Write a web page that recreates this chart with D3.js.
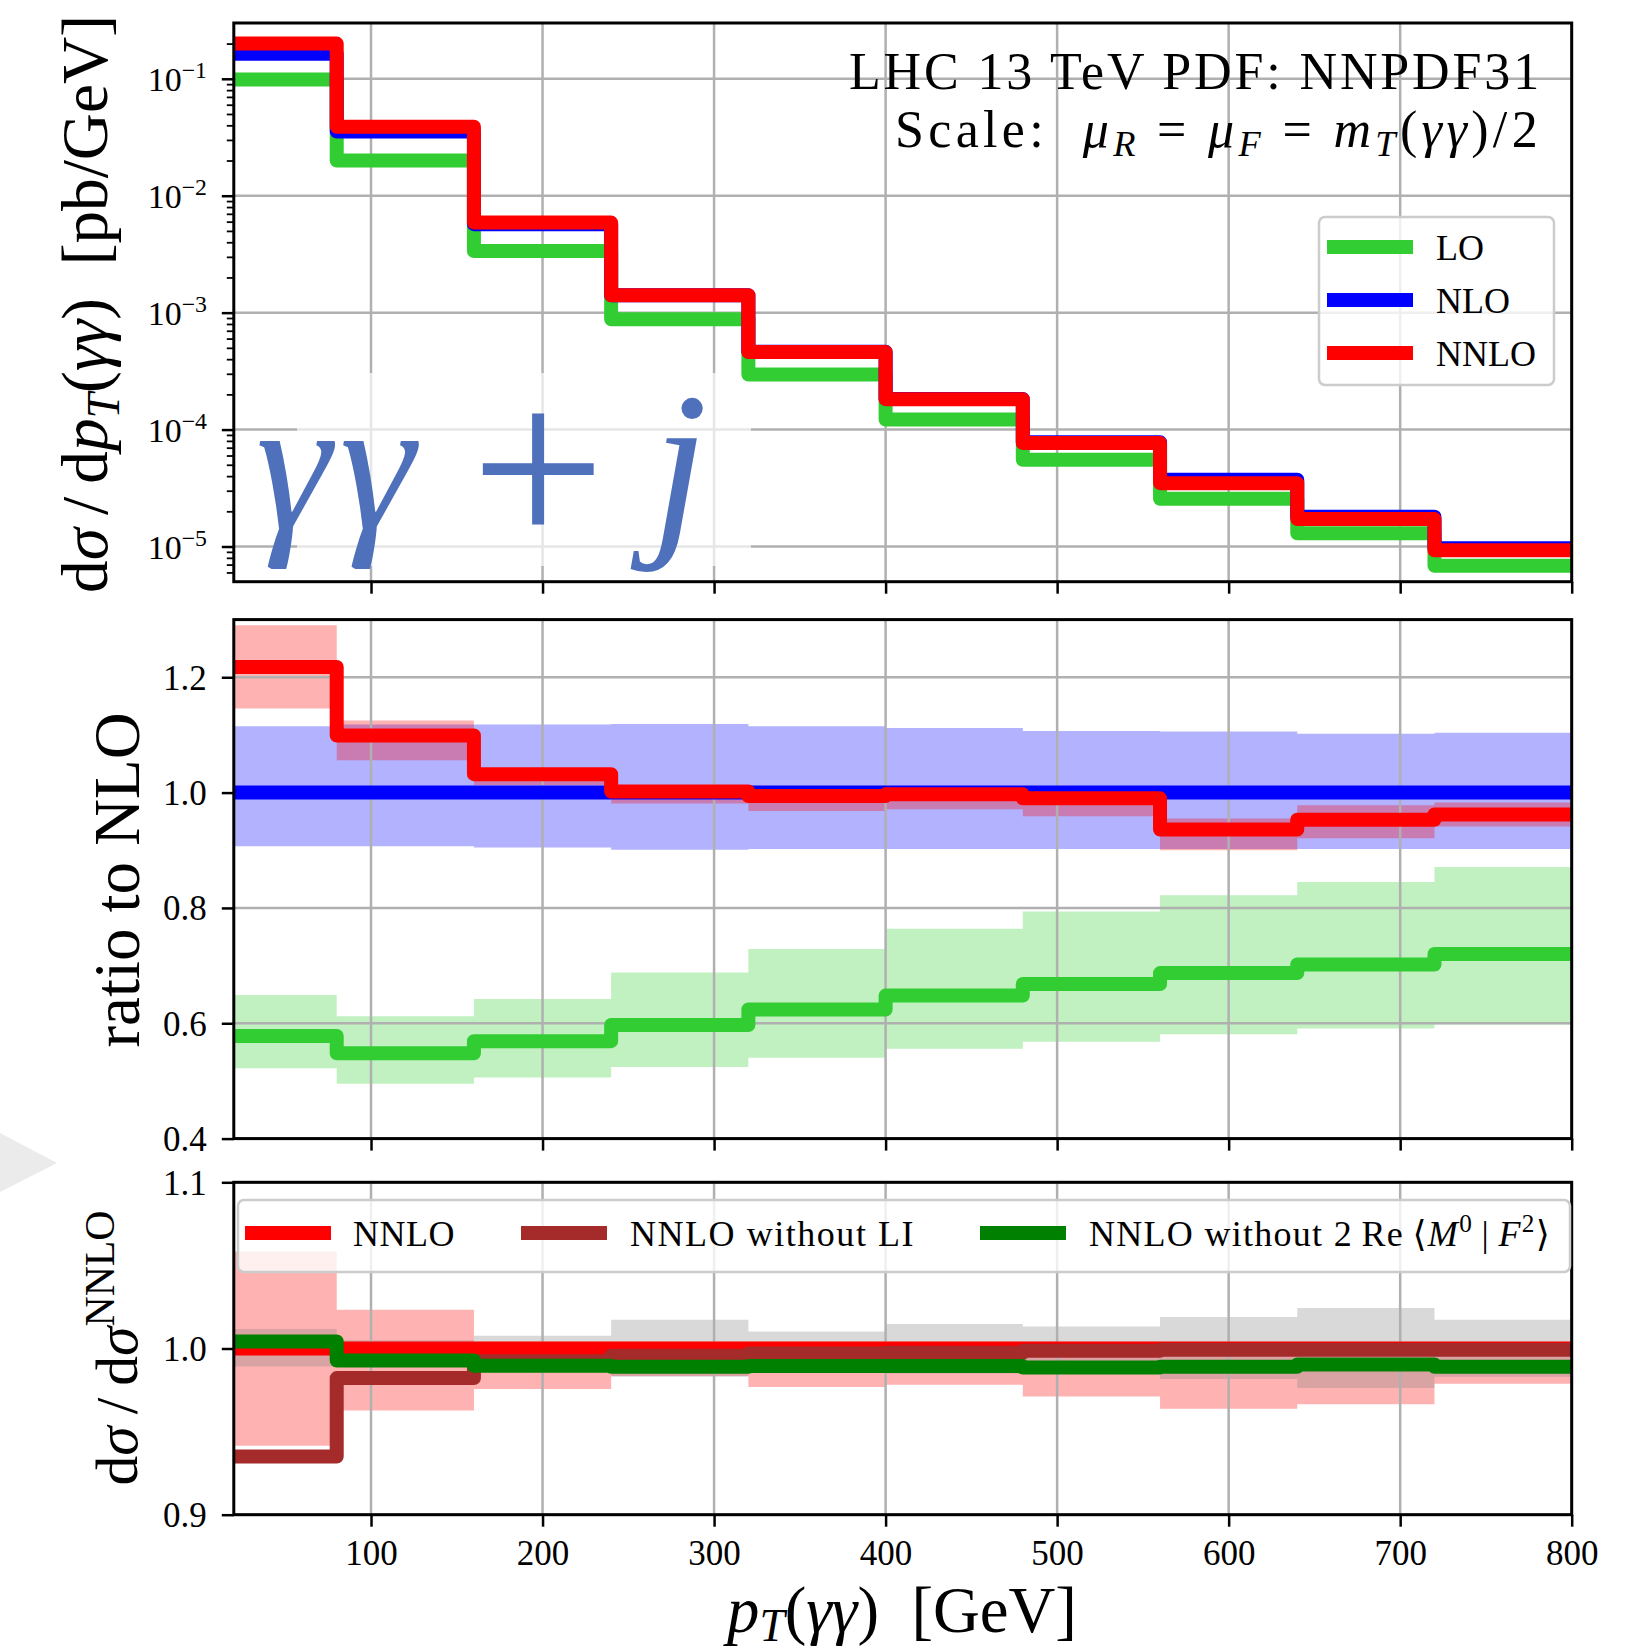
<!DOCTYPE html>
<html>
<head>
<meta charset="utf-8">
<script src="https://cdn.jsdelivr.net/npm/d3@7"></script>
<style>
  body { margin: 0; background: #fff; }
  svg { display: block; }
  text { font-family: "Liberation Serif", "DejaVu Serif", serif; fill: #000; }
  text.process { fill: #4f70ba; }
</style>
</head>
<body>
<svg id="fig" width="1635" height="1651"></svg>
<script>
// ---- binning in pT(γγ) [GeV] ----
const binEdges = [20, 80, 160, 240, 320, 400, 480, 560, 640, 720, 800];

// ---- differential cross sections dσ/dpT [pb/GeV] ----
const loXsec   = [0.0984, 0.0200, 0.00336, 0.000879, 0.000296, 0.000122, 5.51e-5, 2.56e-5, 1.30e-5, 6.85e-6];
const nloXsec  = [0.164, 0.0354, 0.00571, 0.00141, 0.000463, 0.000183, 7.8e-5, 3.72e-5, 1.80e-5, 9.64e-6];
const nnloXsec = [0.200, 0.0389, 0.00589, 0.00141, 0.000460, 0.000182, 7.67e-5, 3.48e-5, 1.72e-5, 9.27e-6];

// ---- ratio to NLO: central values and scale bands ----
const loRatio      = [0.578, 0.548, 0.569, 0.597, 0.624, 0.648, 0.668, 0.687, 0.702, 0.720];
const loRatioLow   = [0.522, 0.495, 0.506, 0.524, 0.540, 0.556, 0.568, 0.581, 0.591, 0.598];
const loRatioHigh  = [0.649, 0.612, 0.642, 0.688, 0.729, 0.764, 0.794, 0.822, 0.845, 0.871];
const nloRatio     = [1, 1, 1, 1, 1, 1, 1, 1, 1, 1];
const nloRatioLow  = [0.907, 0.907, 0.905, 0.901, 0.902, 0.902, 0.902, 0.902, 0.902, 0.902];
const nloRatioHigh = [1.115, 1.118, 1.118, 1.119, 1.115, 1.112, 1.107, 1.106, 1.102, 1.104];
const nnloRatio     = [1.218, 1.099, 1.032, 1.002, 0.994, 0.997, 0.990, 0.936, 0.953, 0.962];
const nnloRatioLow  = [1.146, 1.056, 1.013, 0.981, 0.968, 0.971, 0.959, 0.900, 0.921, 0.941];
const nnloRatioHigh = [1.290, 1.125, 1.040, 1.010, 1.000, 1.003, 0.996, 0.955, 0.978, 0.983];

// ---- ratio to full NNLO ----
const nnloSelf     = [1, 1, 1, 1, 1, 1, 1, 1, 1, 1];
const nnloSelfLow  = [0.9415, 0.9627, 0.9756, 0.9834, 0.9768, 0.9782, 0.9711, 0.9637, 0.9665, 0.9788];
const nnloSelfHigh = [1.0584, 1.0233, 1.004, 1.004, 1.004, 1.004, 1.004, 1.004, 1.004, 1.004];
const statLow      = [0.9892, 0.995, 0.992, 0.983, 0.990, 0.985, 0.987, 0.9816, 0.9762, 0.983];
const statHigh     = [1.0117, 1.005, 1.0076, 1.0173, 1.0102, 1.0147, 1.0133, 1.0189, 1.0243, 1.0173];
const noLIRatio    = [0.935, 0.9822, 0.9924, 0.9956, 0.997, 0.9974, 0.9986, 0.9993, 0.9993, 0.9993];
const noM0F2Ratio  = [1.0042, 0.9928, 0.9896, 0.9890, 0.9894, 0.9894, 0.9886, 0.9890, 0.9904, 0.9890];

// ---- ticks ----
const xTicks = [100, 200, 300, 400, 500, 600, 700, 800];
const logTicks = [1e-5, 1e-4, 1e-3, 1e-2, 1e-1];
const logTickExponents = ["−5", "−4", "−3", "−2", "−1"];
const midTicks = [0.4, 0.6, 0.8, 1.0, 1.2];
const botTicks = [0.9, 1.0, 1.1];

// ---- colours ----
const C = {
  lo: "#32cd32", nlo: "#0000ff", nnlo: "#ff0000",
  noLI: "#a52a2a", noM0F2: "#008000", stat: "#808080",
  grid: "#b0b0b0", legendEdge: "#cccccc"
};

// ---- layout ----
const L = 233.8, R = 1571.7;
const P = {
  top: [23, 581.7],
  mid: [619.6, 1138.6],
  bot: [1182.3, 1514.7]
};
const LW = 14;

const svg = d3.select("#fig");
svg.append("rect").attr("width", 1635).attr("height", 1651).attr("fill", "#fff");

const x = d3.scaleLinear().domain([20, 800]).range([L, R]);
const yTop = d3.scaleLog().domain([5e-6, 0.3]).range([P.top[1], P.top[0]]);
const yMid = d3.scaleLinear().domain([0.4, 1.3]).range([P.mid[1], P.mid[0]]);
const yBot = d3.scaleLinear().domain([0.9, 1.1]).range([P.bot[1], P.bot[0]]);

// light grey marker shape at the left edge
svg.append("path").attr("d", "M0,1133 L57,1163 L0,1192 Z").attr("fill", "#ebebeb");

// ---- helpers ----
const pick = (arr, i) => arr[Math.min(i, arr.length - 1)];

function drawStep(g, y, vals, color) {
  const pts = binEdges.map((e, i) => [e, pick(vals, i)]);
  g.append("path").datum(pts)
    .attr("d", d3.line().x(d => x(d[0])).y(d => y(d[1])).curve(d3.curveStepAfter))
    .attr("fill", "none").attr("stroke", color).attr("stroke-width", LW)
    .attr("stroke-linejoin", "round").attr("stroke-linecap", "butt");
}
function drawBand(g, y, lo, hi, color, op) {
  const pts = binEdges.map((e, i) => ({ x: e, lo: pick(lo, i), hi: pick(hi, i) }));
  g.append("path").datum(pts)
    .attr("d", d3.area().x(d => x(d.x)).y0(d => y(d.lo)).y1(d => y(d.hi)).curve(d3.curveStepAfter))
    .attr("fill", color).attr("fill-opacity", op);
}
function panelClip(id, yr) {
  svg.append("clipPath").attr("id", id).append("rect")
    .attr("x", L).attr("y", yr[0]).attr("width", R - L).attr("height", yr[1] - yr[0]);
  return svg.append("g").attr("clip-path", `url(#${id})`);
}
function grid(g, y, yVals, yr) {
  const gg = g.append("g").attr("stroke", C.grid).attr("stroke-width", 2.5);
  xTicks.forEach(v => gg.append("line").attr("x1", x(v)).attr("x2", x(v)).attr("y1", yr[0]).attr("y2", yr[1]));
  yVals.forEach(v => gg.append("line").attr("x1", L).attr("x2", R).attr("y1", y(v)).attr("y2", y(v)));
}
function frame(yr) {
  svg.append("rect").attr("x", L).attr("y", yr[0]).attr("width", R - L).attr("height", yr[1] - yr[0])
    .attr("fill", "none").attr("stroke", "#000").attr("stroke-width", 3);
}
function xAxis(yPos, withLabels) {
  const ax = d3.axisBottom(x).tickValues(xTicks).tickSizeInner(12).tickSizeOuter(0).tickPadding(13.5);
  if (!withLabels) ax.tickFormat("");
  const a = svg.append("g").attr("transform", `translate(0,${yPos})`).call(ax)
    .attr("font-size", 35).attr("font-family", null);
  a.select(".domain").remove();
  a.selectAll(".tick line").attr("stroke", "#000").attr("stroke-width", 2.5);
}
function yAxisLinear(y, ticks) {
  const ax = d3.axisLeft(y).tickValues(ticks).tickSizeInner(12).tickSizeOuter(0).tickPadding(15)
    .tickFormat(d3.format(".1f"));
  const a = svg.append("g").attr("transform", `translate(${L},0)`).call(ax)
    .attr("font-size", 35).attr("font-family", null);
  a.select(".domain").remove();
  a.selectAll(".tick line").attr("stroke", "#000").attr("stroke-width", 2.5);
  a.selectAll(".tick text").attr("dy", "0.34em");
}
// text made of plain / italic / sub / superscript runs
function rich(parent, parts, fs, attrs, subShift = 0.18) {
  const t = parent.append("text").attr("xml:space", "preserve").style("white-space", "pre");
  Object.entries(attrs).forEach(([k, v]) => t.attr(k, v));
  let size = fs;
  const build = s => {
    size = s;
    t.selectAll("tspan").remove();
    t.attr("font-size", s);
    let off = 0;
    parts.forEach(p => {
      const want = p.sub ? subShift * s : p.sup ? -0.38 * s : 0;
      const sp = t.append("tspan").text(p.t).attr("dy", want - off);
      off = want;
      if (p.sub || p.sup) sp.attr("font-size", 0.7 * s);
      if (p.it) sp.attr("font-style", "italic");
    });
  };
  build(fs);
  return {
    t, build,
    // scale the font so the run spans the given width
    fit(target) { const w = t.node().getComputedTextLength(); build(size * target / w); return this; },
    // keep the font, spread the letters to the given width
    spread(target) {
      const w = t.node().getComputedTextLength();
      const n = parts.reduce((s, p) => s + p.t.length, 0);
      t.attr("letter-spacing", Math.max(0, (target - w) / n));
      return this;
    }
  };
}

// ================= top panel: cross sections =================
const gTop = panelClip("clipTop", P.top);
grid(gTop, yTop, logTicks, P.top);

// light box behind the process name
gTop.append("rect").attr("x", 297).attr("y", 373).attr("width", 454).attr("height", 193)
  .attr("fill", "#fff").attr("fill-opacity", 0.68);

drawStep(gTop, yTop, loXsec, C.lo);
drawStep(gTop, yTop, nloXsec, C.nlo);
drawStep(gTop, yTop, nnloXsec, C.nnlo);
frame(P.top);
xAxis(P.top[1], false);

// log y axis: major and minor ticks
{
  const a = svg.append("g").attr("transform", `translate(${L},0)`);
  a.call(d3.axisLeft(yTop).tickValues(logTicks).tickSizeInner(12).tickSizeOuter(0).tickFormat(""));
  a.select(".domain").remove();
  a.selectAll(".tick line").attr("stroke", "#000").attr("stroke-width", 2.5);
  const minor = [];
  for (let e = -6; e <= -1; e++) for (let m = 2; m <= 9; m++) {
    const v = m * Math.pow(10, e);
    if (v >= 5e-6 && v <= 0.3) minor.push(v);
  }
  const b = svg.append("g").attr("transform", `translate(${L},0)`);
  b.call(d3.axisLeft(yTop).tickValues(minor).tickSizeInner(7).tickSizeOuter(0).tickFormat(""));
  b.select(".domain").remove();
  b.selectAll(".tick line").attr("stroke", "#000").attr("stroke-width", 1.8);
  logTicks.forEach((v, i) => {
    rich(svg, [{ t: "10" }, { t: logTickExponents[i], sup: 1 }], 34,
      { x: 207, y: yTop(v) + 12, "text-anchor": "end" });
  });
}

// process name: γγ + j
{
  const pg = svg.append("g");
  pg.append("text").attr("class", "process").attr("x", 256).attr("y", 528).attr("font-size", 190)
    .attr("letter-spacing", 9).attr("font-style", "italic").text("γγ");
  pg.append("text").attr("class", "process").attr("x", 538).attr("y", 548).attr("font-size", 238)
    .attr("text-anchor", "middle").text("+");
  pg.append("text").attr("class", "process").attr("x", 652).attr("y", 530).attr("font-size", 200)
    .attr("font-style", "italic").text("j");
}

// run description
rich(svg, [{ t: "LHC 13 TeV PDF: NNPDF31" }], 52,
  { x: 1542, y: 89, "text-anchor": "end" }).spread(693);
rich(svg, [{ t: "Scale:  " }, { t: "μ", it: 1 }, { t: "R", it: 1, sub: 1 }, { t: " = " },
  { t: "μ", it: 1 }, { t: "F", it: 1, sub: 1 }, { t: " = " }, { t: "m", it: 1 }, { t: "T", it: 1, sub: 1 },
  { t: "(" }, { t: "γγ", it: 1 }, { t: ")/2" }], 52,
  { x: 1542, y: 147, "text-anchor": "end" }).spread(647);

// legend (orders)
{
  const lg = svg.append("g");
  lg.append("rect").attr("x", 1319).attr("y", 217).attr("width", 235).attr("height", 168).attr("rx", 6)
    .attr("fill", "#fff").attr("fill-opacity", 0.8).attr("stroke", C.legendEdge).attr("stroke-width", 2.5);
  const entries = [["LO", C.lo], ["NLO", C.nlo], ["NNLO", C.nnlo]];
  entries.forEach(([lab, col], i) => {
    const cy = 247 + i * 53;
    lg.append("line").attr("x1", 1327).attr("x2", 1413).attr("y1", cy).attr("y2", cy)
      .attr("stroke", col).attr("stroke-width", LW);
    lg.append("text").attr("x", 1436).attr("y", cy + 12.5).attr("font-size", 36).text(lab);
  });
}

// y label
rich(svg, [{ t: "d" }, { t: "σ", it: 1 }, { t: "\u2009/\u2009d" }, { t: "p", it: 1 }, { t: "T", it: 1, sub: 1 },
  { t: "(" }, { t: "γγ", it: 1 }, { t: ")  [pb/GeV]" }], 60,
  { transform: "translate(107,304) rotate(-90)", "text-anchor": "middle" }).fit(578);

// ================= middle panel: ratio to NLO =================
const gMid = panelClip("clipMid", P.mid);
drawBand(gMid, yMid, nloRatioLow, nloRatioHigh, C.nlo, 0.3);
drawBand(gMid, yMid, nnloRatioLow, nnloRatioHigh, C.nnlo, 0.3);
drawBand(gMid, yMid, loRatioLow, loRatioHigh, C.lo, 0.3);
grid(gMid, yMid, midTicks, P.mid);
drawStep(gMid, yMid, loRatio, C.lo);
drawStep(gMid, yMid, nloRatio, C.nlo);
drawStep(gMid, yMid, nnloRatio, C.nnlo);
frame(P.mid);
xAxis(P.mid[1], false);
yAxisLinear(yMid, midTicks);
rich(svg, [{ t: "ratio to NLO" }], 58,
  { transform: "translate(138.6,880) rotate(-90)", "text-anchor": "middle" }).fit(335);

// ================= bottom panel: ratio to NNLO =================
const gBot = panelClip("clipBot", P.bot);
drawBand(gBot, yBot, nnloSelfLow, nnloSelfHigh, C.nnlo, 0.3);
drawBand(gBot, yBot, statLow, statHigh, C.stat, 0.3);
grid(gBot, yBot, botTicks, P.bot);
drawStep(gBot, yBot, nnloSelf, C.nnlo);
drawStep(gBot, yBot, noLIRatio, C.noLI);
drawStep(gBot, yBot, noM0F2Ratio, C.noM0F2);
frame(P.bot);
xAxis(P.bot[1], true);
yAxisLinear(yBot, botTicks);
rich(svg, [{ t: "d" }, { t: "σ", it: 1 }, { t: "\u2009/\u2009d" }, { t: "σ", it: 1 }, { t: "NNLO", sup: 1 }], 58,
  { transform: "translate(137,1348) rotate(-90)", "text-anchor": "middle" }).fit(275);

// legend (NNLO variants)
{
  const lg = svg.append("g");
  lg.append("rect").attr("x", 238).attr("y", 1200).attr("width", 1332).attr("height", 72).attr("rx", 6)
    .attr("fill", "#fff").attr("fill-opacity", 0.8).attr("stroke", C.legendEdge).attr("stroke-width", 2.5);
  const cy = 1233;
  const entries = [
    { col: C.nnlo, hx: 245, tx: 353, w: 102, parts: [{ t: "NNLO" }] },
    { col: C.noLI, hx: 521, tx: 630, w: 285, parts: [{ t: "NNLO without LI" }] },
    { col: C.noM0F2, hx: 980, tx: 1089, w: 462, parts: [{ t: "NNLO without 2\u2009Re\u2009⟨" }, { t: "M", it: 1 },
      { t: "0", sup: 1 }, { t: "\u2009|\u2009" }, { t: "F", it: 1 }, { t: "2", sup: 1 }, { t: "⟩" }] }
  ];
  entries.forEach(e => {
    lg.append("line").attr("x1", e.hx).attr("x2", e.hx + 86).attr("y1", cy).attr("y2", cy)
      .attr("stroke", e.col).attr("stroke-width", LW);
    rich(lg, e.parts, 36, { x: e.tx, y: cy + 12.5 }).spread(e.w);
  });
}

// x label
rich(svg, [{ t: "p", it: 1 }, { t: "T", it: 1, sub: 1 }, { t: "(" }, { t: "γγ", it: 1 }, { t: ")  [GeV]" }], 62,
  { x: 902, y: 1632, "text-anchor": "middle" }, 0.14).fit(350);
</script>
</body>
</html>
